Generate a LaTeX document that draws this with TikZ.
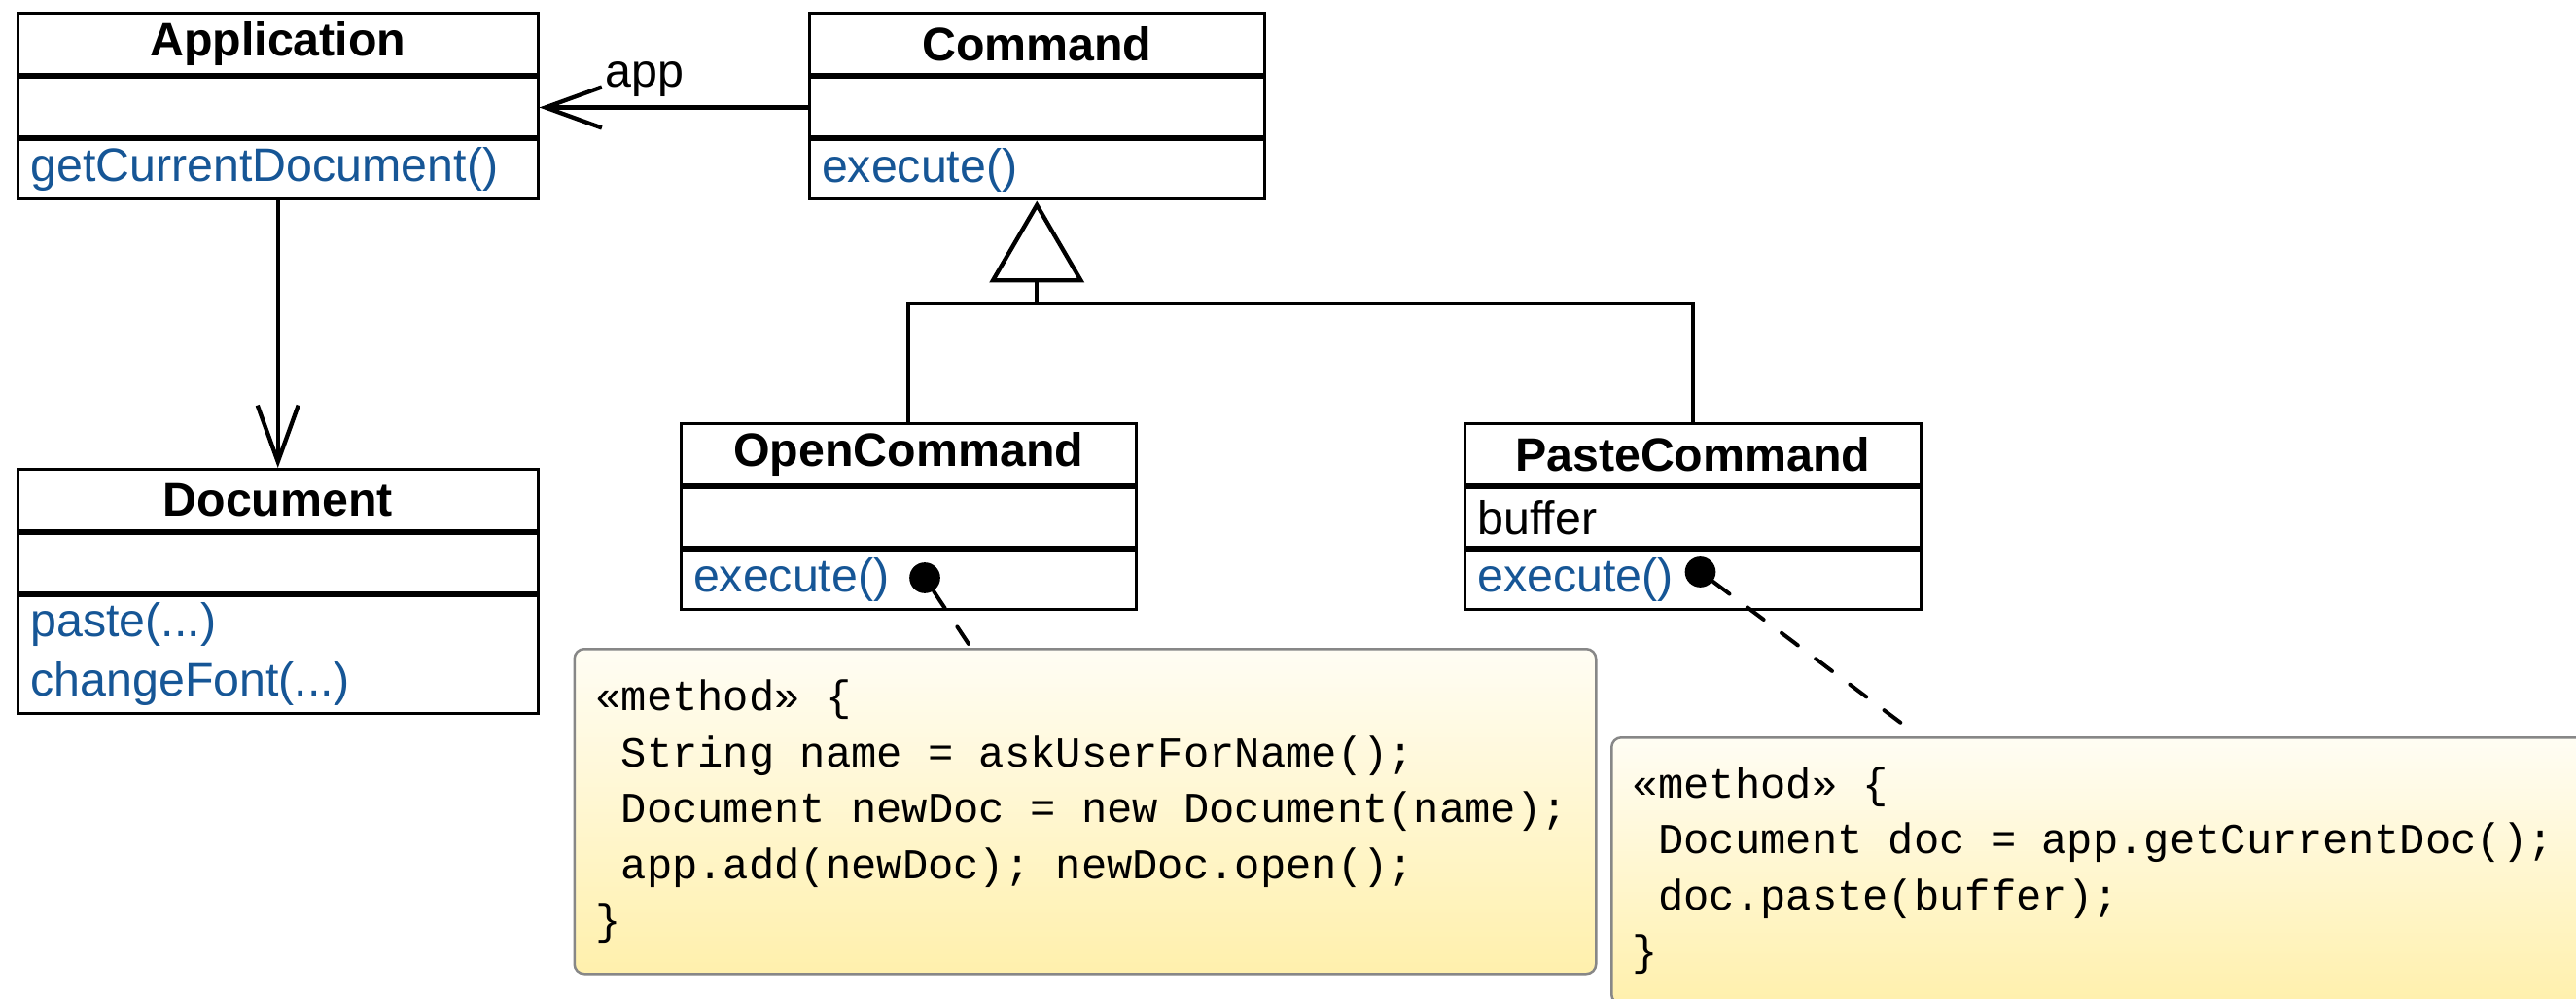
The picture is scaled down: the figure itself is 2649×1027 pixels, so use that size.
\documentclass[tikz,border=0pt]{standalone}
\usepackage{fontspec}
\setmainfont{Liberation Sans}
\newfontfamily\codefont{Liberation Mono}
\newcommand\codesetup{\codefont\fontsize{13.15}{17.25}\selectfont}
\newcommand\codesp{\spaceskip=7.89pt\relax \xspaceskip=7.89pt\relax}
\newcommand\ind{\hspace*{7.89pt}}
\usetikzlibrary{arrows.meta,shadings}
\definecolor{umlblue}{RGB}{22,86,150}
\definecolor{notetop}{RGB}{255,253,244}
\definecolor{notebot}{RGB}{255,240,172}
\definecolor{noteline}{RGB}{135,135,135}
\tikzset{
  umltext/.style={font=\fontsize{14.5}{18.3}\selectfont},
  ttl/.style={draw, line width=0.9pt, inner sep=0pt, anchor=north, minimum width=#1,
    minimum height=18.9pt, font=\fontsize{14.5}{18.3}\selectfont\bfseries},
  cmp/.style={draw, line width=0.9pt, inner xsep=3.9pt, inner ysep=0pt, anchor=north,
    text width=#1, align=left, minimum height=18.3pt, umltext},
  mth/.style={cmp=#1, text=umlblue},
  conn/.style={line width=1.3pt},
  assoc/.style={conn, -{Straight Barb[length=17.4pt, width=12.6pt]}},
  gen/.style={conn, -{Triangle[open, length=25.2pt, width=29.1pt]}},
  dotnode/.style={circle, fill=black, inner sep=0pt, minimum size=9.5pt},
  anchorline/.style={line width=1.2pt, line cap=round, dash pattern=on 6.3pt off 6.9pt},
  note/.style={draw=noteline, line width=0.75pt, rounded corners=3pt,
    top color=notetop, bottom color=notebot, anchor=north west,
    inner xsep=6.5pt, inner ysep=0pt, align=flush left, font=\codesetup},
  lbl/.style={umltext, inner sep=0pt}
}
\begin{document}
\begin{tikzpicture}[x=0.3pt, y=-0.3pt]
\useasboundingbox (0,0) rectangle (2649,1027);
\clip (0,0) rectangle (2649,1027);
\fill[white] (0,0) rectangle (2649,1027);

% Application
\node[ttl=160.35pt] (appT) at (285.75,12.5) {Application};
\node[cmp=152.55pt] (appA) at (appT.south) {};
\node[mth=152.55pt] (appM) at (appA.south) {getCurrentDocument()};

% Command
\node[ttl=140.55pt] (cmdT) at (1066.25,12.5) {Command};
\node[cmp=132.75pt] (cmdA) at (cmdT.south) {};
\node[mth=132.75pt] (cmdM) at (cmdA.south) {execute()};

% Document
\node[ttl=160.35pt] (docT) at (285.75,481) {Document};
\node[cmp=152.55pt] (docA) at (docT.south) {};
\node[mth=152.55pt, minimum height=36.3pt] (docM) at (docA.south) {paste(...)\\changeFont(...)};

% OpenCommand
\node[ttl=140.55pt] (openT) at (934.25,434) {OpenCommand};
\node[cmp=132.75pt] (openA) at (openT.south) {};
\node[mth=132.75pt] (openM) at (openA.south) {execute()};

% PasteCommand
\node[ttl=140.55pt] (pasteT) at (1740.75,434) {PasteCommand};
\node[cmp=132.75pt] (pasteA) at (pasteT.south) {buffer};
\node[mth=132.75pt] (pasteM) at (pasteA.south) {execute()};

% associations
\draw[assoc] (cmdA.west) -- node[lbl, pos=0.606, anchor=base, yshift=6.3pt] (appL) {app} (appA.east);
\draw[assoc] (appM.south) -- (docT.north);

% generalization
\coordinate (gj) at (1066.25,312);
\draw[conn] (openT.north) |- (gj) -| (pasteT.north);
\draw[gen] (gj) -- (cmdM.south);

% notes
\node[note, minimum width=315.15pt, minimum height=100.2pt, text width=302.15pt] (n1) at (589.5,666)
  {\codesp «method» \{\\\ind String name = askUserForName();\\\ind Document newDoc = new Document(name);\\\ind app.add(newDoc); newDoc.open();\\\}};
\node[note, minimum height=82.2pt, text width=290pt] (n2) at (1656,757)
  {\codesp «method» \{\\\ind Document doc = app.getCurrentDoc();\\\ind doc.paste(buffer);\\\}};

% note anchors
\node[dotnode] (od) at (951,594) {};
\node[dotnode] (pd) at (1748.5,588) {};
\coordinate (oe) at (996,662);
\coordinate (pe) at (1954.6,743);
\draw[anchorline] (od) -- (oe);
\draw[anchorline] (pd) -- (pe);
\end{tikzpicture}
\end{document}
